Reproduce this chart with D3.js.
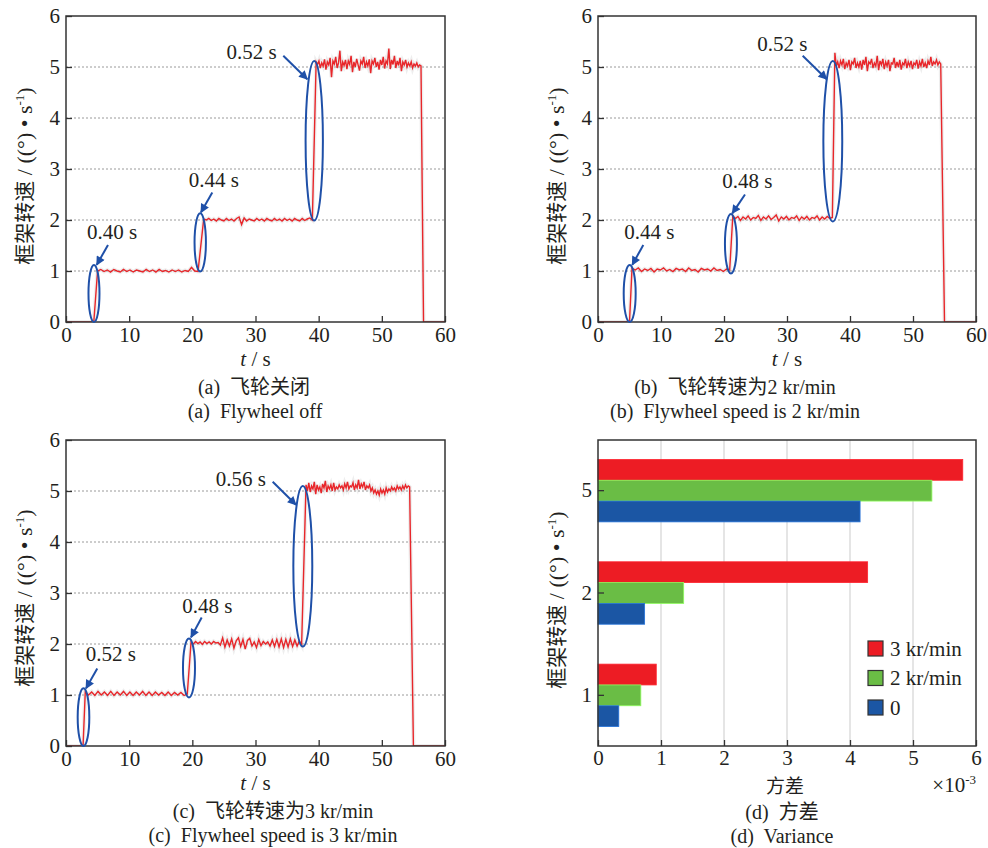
<!DOCTYPE html>
<html>
<head>
<meta charset="utf-8">
<script src="https://cdn.jsdelivr.net/npm/d3@7/dist/d3.min.js"></script>
<style>
  body { margin: 0; background: #fff; }
  svg text { font-family: 'Liberation Serif', 'Times New Roman', Tinos, 'DejaVu Serif', 'Noto Sans CJK SC', serif; fill: #231f20; }
</style>
</head>
<body>
<svg id="chart" width="988" height="848"></svg>
<script>
// ---------- 数据 ----------
const timeTicks = [0, 10, 20, 30, 40, 50, 60]
const speedTicks = [0, 1, 2, 3, 4, 5, 6]

// 时间节点: 上升开始, 台阶1 [起,止], 台阶2 [起,止], 台阶3 [起,止], 降到0
const aTimes = [4.4, 5.0, 20.9, 21.8, 39.0, 39.6, 56.2, 56.6]
const aLevel1 = [1.00, 1.03, 0.99, 1.02, 0.98, 1.03, 1.00, 0.98, 1.03, 0.99, 1.02, 0.98, 1.02, 1.00, 0.98, 1.03,
  0.99, 1.02, 0.98, 1.03, 0.99, 1.01, 0.98, 1.02, 0.99, 1.02, 0.98, 1.01, 0.99, 1.07, 1.00, 0.99]
const aLevel2 = [2.02, 2.00, 2.03, 1.99, 2.02, 1.98, 2.03, 2.00, 1.98, 2.03, 1.99, 2.02, 1.98, 2.03, 2.06, 1.91,
  2.04, 1.98, 2.02, 2.00, 1.98, 2.03, 1.99, 2.02, 1.98, 2.03, 2.00, 1.98, 2.03, 1.99, 2.02, 1.98, 2.03, 1.99,
  2.02, 1.98, 2.03, 2.00, 1.98, 2.03, 1.99, 2.02, 2.04, 2.00]
const aLevel3 = [5.10, 5.05, 5.12, 4.98, 5.08, 5.02, 5.15, 4.95, 5.10, 5.04, 5.18, 4.80, 5.12, 5.06, 5.20, 4.98,
  5.08, 5.32, 4.92, 5.10, 5.03, 5.14, 4.96, 5.12, 5.05, 5.22, 4.90, 5.10, 5.00, 5.16, 5.04, 4.93, 5.12, 5.06,
  5.20, 4.98, 5.10, 5.02, 5.15, 4.88, 5.12, 5.06, 5.18, 5.00, 5.10, 4.95, 5.14, 5.04, 5.20, 4.97, 5.12, 5.06,
  5.36, 4.96, 5.14, 5.05, 5.22, 4.98, 5.12, 5.03, 5.18, 4.92, 5.10, 5.04, 5.14, 5.00, 5.08, 5.02, 5.10, 4.98,
  5.06, 5.02, 5.08, 5.00, 5.04, 5.02]

const bTimes = [5.0, 5.4, 20.9, 21.4, 37.2, 37.6, 54.4, 55.0]
const bLevel1 = [1.05, 1.02, 1.06, 0.99, 1.04, 1.01, 1.05, 0.98, 1.04, 1.02, 1.06, 1.00, 1.03, 0.99, 1.05, 1.02,
  1.04, 0.99, 1.06, 1.01, 1.03, 0.98, 1.05, 1.02, 1.04, 1.00, 1.06, 1.01, 1.03, 0.99, 1.04, 1.02]
const bLevel2 = [2.08, 2.03, 2.07, 1.99, 2.06, 2.02, 2.08, 2.00, 2.05, 2.03, 2.09, 1.99, 2.06, 2.02, 2.08, 2.01,
  2.05, 2.10, 1.98, 2.06, 2.02, 2.07, 2.00, 2.05, 2.03, 2.08, 1.99, 2.06, 2.02, 2.07, 2.00, 2.05, 2.03, 2.08,
  2.00, 2.06, 2.02, 2.07, 2.03, 2.05]
const bLevel3 = [5.28, 5.02, 5.10, 4.98, 5.12, 5.04, 5.16, 4.96, 5.08, 5.02, 5.14, 4.94, 5.10, 5.06, 5.18, 4.98,
  5.08, 5.00, 5.12, 4.95, 5.14, 5.04, 5.20, 4.92, 5.10, 5.06, 5.16, 4.98, 5.08, 5.02, 5.22, 4.94, 5.12, 5.04,
  5.16, 4.96, 5.10, 5.02, 5.14, 4.92, 5.08, 5.06, 5.18, 4.98, 5.10, 5.00, 5.14, 4.95, 5.08, 5.04, 5.16, 4.98,
  5.10, 5.02, 5.12, 4.96, 5.08, 5.04, 5.14, 4.97, 5.10, 5.02, 5.16, 5.00, 5.08, 4.98, 5.12, 5.04, 5.20, 5.02,
  5.10, 5.06, 5.14, 5.04, 5.10, 5.06]

const cTimes = [2.7, 3.05, 19.2, 19.8, 37.3, 38.0, 54.4, 55.0]
const cLevel1 = [1.06, 1.00, 1.06, 0.99, 1.07, 1.00, 1.06, 0.99, 1.07, 0.99, 1.06, 1.00, 1.07, 0.99, 1.06, 0.99,
  1.06, 1.00, 1.07, 0.99, 1.06, 0.99, 1.06, 1.00, 1.05, 0.99, 1.06, 0.99, 1.05, 1.00, 1.05, 0.99, 1.02]
const cLevel2 = [2.04, 2.00, 2.05, 2.01, 2.04, 1.99, 2.05, 2.01, 2.04, 2.00, 2.05, 2.02, 2.03, 1.98, 2.12, 1.94,
  2.08, 1.96, 2.10, 1.92, 2.06, 2.12, 1.95, 2.09, 1.90, 2.07, 2.11, 1.96, 2.04, 1.93, 2.09, 1.97, 2.05, 2.00,
  2.04, 1.96, 2.08, 1.95, 2.09, 1.94, 2.10, 1.93, 2.09, 1.94, 2.10, 1.95, 2.08, 1.96, 2.06, 1.98]
const cLevel3 = [5.12, 5.00, 5.16, 4.98, 5.10, 5.04, 5.18, 4.94, 5.12, 5.02, 5.08, 4.96, 5.14, 5.06, 5.20, 4.98,
  5.10, 5.04, 5.12, 5.00, 5.16, 5.02, 5.08, 5.04, 5.12, 5.06, 5.10, 5.02, 5.14, 5.06, 5.18, 5.04, 5.10, 5.08,
  5.16, 5.02, 5.12, 5.06, 5.22, 5.04, 5.14, 5.08, 5.18, 5.02, 5.10, 5.06, 5.12, 5.00, 5.06, 4.96, 5.02, 4.94,
  5.00, 4.92, 5.04, 4.96, 5.02, 4.94, 5.06, 4.98, 5.04, 5.00, 5.08, 5.02, 5.06, 5.00, 5.10, 5.04, 5.08, 5.02,
  5.10, 5.04, 5.12, 5.06, 5.10, 5.08]

// 椭圆标注: [中心时间, 下沿转速, 上沿转速, 半宽(s)]
const aRings = [[4.43, 0, 1.12, 0.87], [21.25, 0.99, 2.13, 0.9], [39.3, 1.99, 5.12, 1.37]]
const bRings = [[5.03, 0, 1.12, 0.95], [21.1, 0.95, 2.12, 0.95], [37.27, 1.97, 5.12, 1.5]]
const cRings = [[2.77, 0, 1.13, 0.92], [19.47, 0.95, 2.11, 0.95], [37.49, 1.95, 5.10, 1.5]]
const aNotes = ["0.40 s", "0.44 s", "0.52 s"]
const bNotes = ["0.44 s", "0.48 s", "0.52 s"]
const cNotes = ["0.52 s", "0.48 s", "0.56 s"]
const aNoteAt = [[7.28, 1.78], [23.4, 2.80], [29.4, 5.30]]
const bNoteAt = [[8.13, 1.77], [23.7, 2.78], [29.25, 5.46]]
const cNoteAt = [[7.08, 1.82], [22.37, 2.76], [27.66, 5.25]]
// 箭头: [起点t, 起点v, 终点t, 终点v]
const aArrows = [[6.65, 1.51, 4.86, 1.12], [23.16, 2.54, 21.37, 2.15], [34.4, 5.22, 38.2, 4.76]]
const bArrows = [[7.19, 1.51, 5.44, 1.12], [23.33, 2.50, 21.32, 2.13], [32.49, 5.22, 36.3, 4.76]]
const cArrows = [[4.95, 1.52, 3.17, 1.13], [21.48, 2.52, 19.79, 2.13], [32.72, 5.18, 36.41, 4.73]]

// (d) 方差 (×10^-3)
const speedLevels = ["5", "2", "1"]
const seriesNames = ["3 kr/min", "2 kr/min", "0"]
const var3k = [5.79, 4.28, 0.925]
const var2k = [5.30, 1.36, 0.68]
const var0 = [4.16, 0.74, 0.33]
const varianceTicks = [0, 1, 2, 3, 4, 5, 6]

const seriesColors = ["#ed1c24", "#6abd45", "#1b56a4"]
const lineColor = "#e8262a"
const noteColor = "#1f50a8"
const axisColor = "#333"
const serif = "'Liberation Serif', 'Times New Roman', Tinos, 'DejaVu Serif', serif"
const cjk = "'Noto Sans CJK SC', sans-serif"

const svg = d3.select("#chart")

svg.append("defs").append("marker")
  .attr("id", "arrowHead")
  .attr("viewBox", "0 0 10 10")
  .attr("refX", 9)
  .attr("refY", 5)
  .attr("markerUnits", "userSpaceOnUse")
  .attr("markerWidth", 11)
  .attr("markerHeight", 9)
  .attr("orient", "auto")
  .append("path")
  .attr("d", "M0,0 L10,5 L0,10 z")
  .style("fill", noteColor)

function buildTrace(times, levels) {
  let pts = [[0, 0], [times[0], 0]]
  for (let k = 0; k < 3; k++) {
    let t0 = times[1 + k * 2], t1 = times[2 + k * 2]
    let vals = levels[k]
    vals.forEach(function (v, i) {
      pts.push([t0 + (t1 - t0) * i / (vals.length - 1), v])
    })
  }
  pts.push([times[7], 0])
  pts.push([60, 0])
  return pts
}

function styleAxis(g) {
  g.attr("font-family", null).attr("font-size", null)
  g.select(".domain").remove()
  g.selectAll(".tick line").style("stroke", axisColor).style("stroke-width", 1.3)
  g.selectAll(".tick text").style("font-size", "21px").style("fill", "#231f20")
    .style("font-family", serif)
}

// 中文与西文混排: 中文用 CJK 字体
function mixed(t, parts) {
  parts.forEach(function (p) {
    t.append("tspan").text(p)
      .style("font-family", /[\u4e00-\u9fff]/.test(p) ? cjk : serif)
  })
}

function yLabel(cx, cy) {
  let t = svg.append("text")
    .attr("transform", "translate(" + cx + "," + cy + ") rotate(-90)")
    .attr("text-anchor", "middle")
    .attr("dy", "0.35em")
    .style("font-size", "21px")
  t.append("tspan").text("框架转速").style("font-family", cjk)
  t.append("tspan").text(" / ((°) • s").style("font-family", serif).style("font-size", "22px")
  t.append("tspan").text("-1").attr("dy", -8).style("font-size", "13px").style("font-family", serif)
  t.append("tspan").text(")").attr("dy", 8).style("font-family", serif).style("font-size", "22px")
}

function caption(x, y, parts) {
  let t = svg.append("text")
    .attr("x", x)
    .attr("y", y)
    .attr("dy", "0.35em")
    .attr("text-anchor", "middle")
    .style("font-size", "20px")
    .style("white-space", "pre")
  mixed(t, parts)
}

function drawSpeedPanel(id, f, times, levels, rings, notes, noteAt, arrows) {
  let g = svg.append("g").attr("transform", "translate(" + f.x + "," + f.y + ")")
  let x = d3.scaleLinear().domain([0, 60]).range([0, f.w])
  let y = d3.scaleLinear().domain([0, 6]).range([f.h, 0])

  svg.select("defs").append("clipPath").attr("id", "clip" + id)
    .append("rect").attr("width", f.w).attr("height", f.h)

  // 网格
  g.selectAll(".grid")
    .data(speedTicks.slice(1, 6))
    .enter()
    .append("line")
    .attr("x1", 0).attr("x2", f.w)
    .attr("y1", d => y(d)).attr("y2", d => y(d))
    .style("stroke", "#9a9a9a")
    .style("stroke-width", 1)
    .style("stroke-dasharray", "2,2")

  let pts = buildTrace(times, levels)
  let line = d3.line().x(d => x(d[0])).y(d => y(d[1]))
  let plot = g.append("g").attr("clip-path", "url(#clip" + id + ")")
  plot.append("path")
    .attr("d", line(pts))
    .style("fill", "none")
    .style("stroke", "#bbb")
    .style("stroke-width", 4)
    .style("opacity", 0.25)
  plot.append("path")
    .attr("d", line(pts))
    .style("fill", "none")
    .style("stroke", lineColor)
    .style("stroke-width", 1.4)

  // 轴
  g.append("g").attr("transform", "translate(0," + f.h + ")")
    .call(d3.axisBottom(x).tickValues(timeTicks).tickFormat(d3.format("d"))
      .tickSizeInner(-6).tickSizeOuter(0).tickPadding(5))
    .call(styleAxis)
  g.append("g")
    .call(d3.axisLeft(y).tickValues(speedTicks).tickFormat(d3.format("d"))
      .tickSizeInner(-6).tickSizeOuter(0).tickPadding(6))
    .call(styleAxis)
  g.append("rect")
    .attr("width", f.w).attr("height", f.h)
    .style("fill", "none").style("stroke", axisColor).style("stroke-width", 1.5)

  // 标注
  g.selectAll(".ring")
    .data(rings)
    .enter()
    .append("ellipse")
    .attr("cx", d => x(d[0]))
    .attr("cy", d => y((d[1] + d[2]) / 2))
    .attr("rx", d => x(d[0] + d[3]) - x(d[0]))
    .attr("ry", d => (y(d[1]) - y(d[2])) / 2)
    .style("fill", "none")
    .style("stroke", noteColor)
    .style("stroke-width", 2)

  g.selectAll(".arrow")
    .data(arrows)
    .enter()
    .append("line")
    .attr("x1", d => x(d[0])).attr("y1", d => y(d[1]))
    .attr("x2", d => x(d[2])).attr("y2", d => y(d[3]))
    .attr("marker-end", "url(#arrowHead)")
    .style("stroke", noteColor)
    .style("stroke-width", 2)

  g.selectAll(".note")
    .data(noteAt)
    .enter()
    .append("text")
    .attr("x", d => x(d[0]))
    .attr("y", d => y(d[1]))
    .attr("dy", "0.35em")
    .attr("text-anchor", "middle")
    .style("font-size", "21px")
    .style("font-family", serif)
    .text((d, i) => notes[i])

  // x 轴标题
  let xt = g.append("text")
    .attr("x", f.w / 2)
    .attr("y", f.h + 37)
    .attr("dy", "0.35em")
    .attr("text-anchor", "middle")
    .style("font-size", "21px")
    .style("font-family", serif)
  xt.append("tspan").text("t").style("font-style", "italic")
  xt.append("tspan").text(" / s")
}

drawSpeedPanel("a", {x: 66, y: 16, w: 379, h: 306}, aTimes, [aLevel1, aLevel2, aLevel3], aRings, aNotes, aNoteAt, aArrows)
drawSpeedPanel("b", {x: 598, y: 16, w: 378, h: 306}, bTimes, [bLevel1, bLevel2, bLevel3], bRings, bNotes, bNoteAt, bArrows)
drawSpeedPanel("c", {x: 66, y: 440, w: 379, h: 306}, cTimes, [cLevel1, cLevel2, cLevel3], cRings, cNotes, cNoteAt, cArrows)

yLabel(25, 176)
yLabel(557, 176)
yLabel(25, 598)
yLabel(557, 600)

caption(254, 387, ["(a)  ", "飞轮关闭"])
caption(255, 411, ["(a)  Flywheel off"])
caption(735, 387, ["(b)  ", "飞轮转速为", "2 kr/min"])
caption(735, 411, ["(b)  Flywheel speed is 2 kr/min"])
caption(273, 811, ["(c)  ", "飞轮转速为", "3 kr/min"])
caption(273, 835, ["(c)  Flywheel speed is 3 kr/min"])
caption(782, 812, ["(d)  ", "方差"])
caption(782, 836, ["(d)  Variance"])

// ---------- (d) 方差条形图 ----------
function drawVariancePanel(f) {
  let g = svg.append("g").attr("transform", "translate(" + f.x + "," + f.y + ")")
  let x = d3.scaleLinear().domain([0, 6]).range([0, f.w])
  let y = d3.scaleBand().domain(speedLevels).range([0, f.h]).paddingInner(0.39).paddingOuter(0.19)
  let ySub = d3.scaleBand().domain(seriesNames).range([0, y.bandwidth()])

  g.selectAll(".vgrid")
    .data(varianceTicks.slice(1, 6))
    .enter()
    .append("line")
    .attr("x1", d => x(d)).attr("x2", d => x(d))
    .attr("y1", 0).attr("y2", f.h)
    .style("stroke", "#dcdcdc")
    .style("stroke-width", 1.5)

  let rows = speedLevels.map(function (lvl, i) {
    return {lvl: lvl, vals: [var3k[i], var2k[i], var0[i]]}
  })

  let grp = g.selectAll(".grp")
    .data(rows)
    .enter()
    .append("g")
    .attr("transform", d => "translate(0," + y(d.lvl) + ")")
  grp.selectAll("rect")
    .data(d => d.vals.map((v, j) => ({name: seriesNames[j], v: v, j: j})))
    .enter()
    .append("rect")
    .attr("x", 0)
    .attr("y", d => ySub(d.name))
    .attr("width", d => x(d.v))
    .attr("height", ySub.bandwidth())
    .style("fill", d => seriesColors[d.j])
    .style("stroke", d => d3.color(seriesColors[d.j]).brighter(0.8))
    .style("stroke-width", 0.8)

  g.append("g").attr("transform", "translate(0," + f.h + ")")
    .call(d3.axisBottom(x).tickValues(varianceTicks).tickFormat(d3.format("d"))
      .tickSizeInner(-6).tickSizeOuter(0).tickPadding(4))
    .call(styleAxis)
  g.append("g")
    .call(d3.axisLeft(y).tickSizeInner(-6).tickSizeOuter(0).tickPadding(6))
    .call(styleAxis)
  g.append("rect")
    .attr("width", f.w).attr("height", f.h)
    .style("fill", "none").style("stroke", axisColor).style("stroke-width", 1.5)

  // 图例
  let lg = g.append("g").attr("transform", "translate(270,201)")
  let item = lg.selectAll(".item")
    .data(seriesNames)
    .enter()
    .append("g")
    .attr("transform", (d, i) => "translate(0," + i * 29.5 + ")")
  item.append("rect")
    .attr("width", 15).attr("height", 15)
    .style("fill", (d, i) => seriesColors[i])
    .style("stroke", "#333")
    .style("stroke-width", 1.2)
  item.append("text")
    .attr("x", 22)
    .attr("y", 7.5)
    .attr("dy", "0.35em")
    .style("font-size", "21px")
    .style("font-family", serif)
    .text(d => d)

  g.append("text")
    .attr("x", x(3) - 2)
    .attr("y", f.h + 41)
    .attr("dy", "0.3em")
    .attr("text-anchor", "middle")
    .style("font-size", "19px")
    .style("font-family", cjk)
    .text("方差")
  let ex = g.append("text")
    .attr("x", f.w)
    .attr("y", f.h + 39)
    .attr("dy", "0.35em")
    .attr("text-anchor", "end")
    .style("font-size", "21px")
    .style("font-family", serif)
  ex.append("tspan").text("×10")
  ex.append("tspan").text("-3").attr("dy", -8).style("font-size", "13px")
}

drawVariancePanel({x: 598, y: 440, w: 378, h: 306})
</script>
</body>
</html>
